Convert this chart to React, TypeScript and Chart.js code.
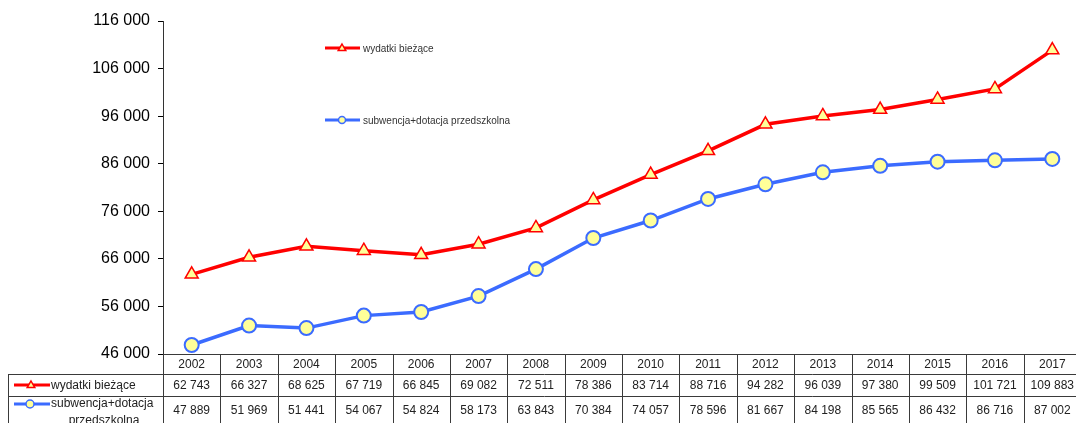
import React, { useEffect, useRef } from "react";
import { Chart, registerables } from "chart.js";

Chart.register(...registerables);

const years = ["2002", "2003", "2004", "2005", "2006", "2007", "2008", "2009", "2010", "2011", "2012", "2013", "2014", "2015", "2016", "2017"];
const wydatki = [62743, 66327, 68625, 67719, 66845, 69082, 72511, 78386, 83714, 88716, 94282, 96039, 97380, 99509, 101721, 109883];
const subwencja = [47889, 51969, 51441, 54067, 54824, 58173, 63843, 70384, 74057, 78596, 81667, 84198, 85565, 86432, 86716, 87002];
const seriesNames = ["wydatki bieżące", "subwencja+dotacja przedszkolna"];
const yMin = 46000;
const yMax = 116000;
const yStep = 10000;

const RED = "#ff0000";
const BLUE = "#3b6bff";
const FILL = "#ffff99";
const FONT = "'Liberation Sans', Arial, sans-serif";

function fmt(v: number): string {
  return String(Math.round(v)).replace(/\B(?=(\d{3})+(?!\d))/g, " ");
}

function drawTri(ctx: CanvasRenderingContext2D, x: number, y: number, r: number, lw: number) {
  ctx.beginPath();
  ctx.moveTo(x, y - r);
  ctx.lineTo(x + r * 0.95, y + r * 0.65);
  ctx.lineTo(x - r * 0.95, y + r * 0.65);
  ctx.closePath();
  ctx.fillStyle = FILL;
  ctx.fill();
  ctx.lineWidth = lw;
  ctx.strokeStyle = RED;
  ctx.stroke();
}

function drawCirc(ctx: CanvasRenderingContext2D, x: number, y: number, r: number, lw: number) {
  ctx.beginPath();
  ctx.arc(x, y, r, 0, Math.PI * 2);
  ctx.fillStyle = FILL;
  ctx.fill();
  ctx.lineWidth = lw;
  ctx.strokeStyle = BLUE;
  ctx.stroke();
}

const tablePlugin = {
  id: "dataTable",
  afterDraw(chart: any) {
    const ctx: CanvasRenderingContext2D = chart.ctx;
    const area = chart.chartArea;
    const xs = chart.scales.x;
    const n = years.length;
    const colW = (area.right - area.left) / n;
    const top = Math.round(area.bottom);
    const r1 = top + 20;
    const r2 = r1 + 22;
    const r3 = r2 + 40;
    const leftX = 8;
    ctx.save();
    ctx.strokeStyle = "#3a3a3a";
    ctx.lineWidth = 1;
    ctx.beginPath();
    ctx.moveTo(area.left, top + 0.5);
    ctx.lineTo(area.right, top + 0.5);
    ctx.moveTo(leftX, r1 + 0.5);
    ctx.lineTo(area.right, r1 + 0.5);
    ctx.moveTo(leftX, r2 + 0.5);
    ctx.lineTo(area.right, r2 + 0.5);
    for (let i = 0; i <= n; i++) {
      const x = Math.round(area.left + i * colW) + 0.5;
      ctx.moveTo(x, top);
      ctx.lineTo(x, r3);
    }
    ctx.moveTo(leftX + 0.5, r1);
    ctx.lineTo(leftX + 0.5, r3);
    ctx.stroke();

    ctx.fillStyle = "#222";
    ctx.font = `12px ${FONT}`;
    ctx.textAlign = "center";
    ctx.textBaseline = "middle";
    for (let i = 0; i < n; i++) {
      const cx = xs.getPixelForValue(i);
      ctx.fillText(years[i], cx, (top + r1) / 2 + 1);
      ctx.fillText(fmt(wydatki[i]), cx, (r1 + r2) / 2 + 1);
      ctx.fillText(fmt(subwencja[i]), cx, r2 + 15);
    }

    const ky1 = (r1 + r2) / 2;
    ctx.lineWidth = 3;
    ctx.strokeStyle = RED;
    ctx.beginPath();
    ctx.moveTo(14, ky1);
    ctx.lineTo(50, ky1);
    ctx.stroke();
    drawTri(ctx, 31, ky1, 4, 1.5);
    const ky2 = r2 + 8;
    ctx.strokeStyle = BLUE;
    ctx.lineWidth = 3;
    ctx.beginPath();
    ctx.moveTo(14, ky2);
    ctx.lineTo(50, ky2);
    ctx.stroke();
    drawCirc(ctx, 30, ky2, 4, 1.5);
    ctx.fillStyle = "#222";
    ctx.textAlign = "left";
    ctx.font = `12px ${FONT}`;
    ctx.fillText(seriesNames[0], 51, ky1 + 1);
    ctx.fillText("subwencja+dotacja", 51, ky2);
    ctx.textAlign = "center";
    ctx.fillText("przedszkolna", 104, ky2 + 17);

    const legs = [
      { y: 48, color: RED, tri: true, label: seriesNames[0] },
      { y: 120, color: BLUE, tri: false, label: seriesNames[1] },
    ];
    for (const l of legs) {
      ctx.strokeStyle = l.color;
      ctx.lineWidth = 3;
      ctx.beginPath();
      ctx.moveTo(325, l.y);
      ctx.lineTo(360, l.y);
      ctx.stroke();
      if (l.tri) drawTri(ctx, 342, l.y, 4, 1.5);
      else drawCirc(ctx, 342, l.y, 3.5, 1.5);
      ctx.fillStyle = "#333";
      ctx.textAlign = "left";
      ctx.font = `10px ${FONT}`;
      ctx.fillText(l.label, 363, l.y + 1);
    }
    ctx.restore();
  },
};

export default function App() {
  const ref = useRef<HTMLCanvasElement>(null);
  useEffect(() => {
    if (!ref.current) return;
    const chart = new Chart(ref.current, {
      type: "line",
      data: {
        labels: years,
        datasets: [
          {
            label: seriesNames[0],
            data: wydatki,
            borderColor: RED,
            borderWidth: 3.5,
            backgroundColor: FILL,
            pointStyle: "triangle",
            pointRadius: 7.5,
            pointBorderWidth: 1.5,
            pointBorderColor: RED,
            pointBackgroundColor: FILL,
            tension: 0,
            clip: false,
          },
          {
            label: seriesNames[1],
            data: subwencja,
            borderColor: BLUE,
            borderWidth: 3.5,
            backgroundColor: FILL,
            pointStyle: "circle",
            pointRadius: 7,
            pointBorderWidth: 2,
            pointBorderColor: BLUE,
            pointBackgroundColor: FILL,
            tension: 0,
            clip: false,
          },
        ],
      },
      options: {
        responsive: false,
        animation: false,
        layout: { padding: { left: 0, right: 5, top: 21, bottom: 69 } },
        plugins: { legend: { display: false }, tooltip: { enabled: false } },
        scales: {
          x: { type: "category", offset: true, display: false },
          y: {
            min: yMin,
            max: yMax,
            afterFit(scale: any) {
              scale.width = 163;
            },
            ticks: {
              stepSize: yStep,
              color: "#000",
              font: { family: FONT, size: 16 },
              padding: 8,
              callback: (v: any) => fmt(Number(v)),
            },
            grid: { drawOnChartArea: false, drawTicks: true, tickLength: 5, color: "#000" },
            border: { display: true, color: "#333", width: 1 },
          },
        },
      },
      plugins: [tablePlugin],
    });
    return () => chart.destroy();
  }, []);
  return (
    <div style={{ position: "fixed", left: 0, top: 0, width: 1076, height: 423, overflow: "hidden", background: "#fff" }}>
      <canvas ref={ref} width={1090} height={423} style={{ width: 1090, height: 423, display: "block" }} />
    </div>
  );
}
